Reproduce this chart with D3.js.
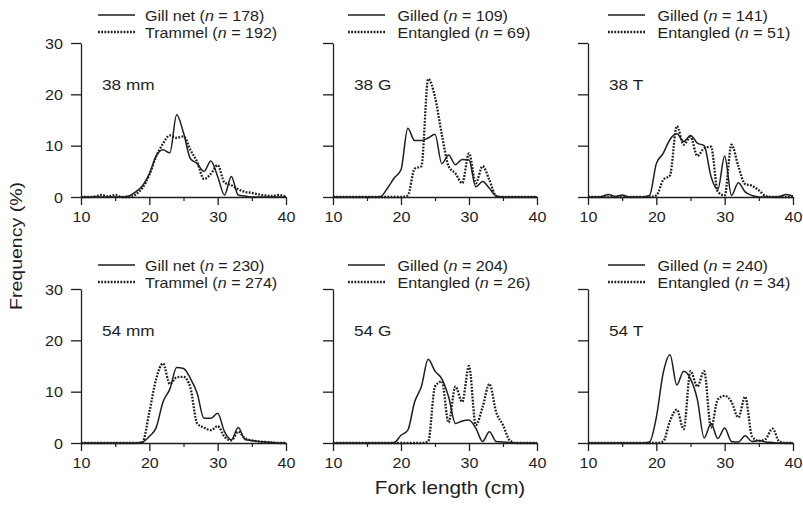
<!DOCTYPE html>
<html>
<head>
<meta charset="utf-8">
<script src="https://cdn.jsdelivr.net/npm/d3@7"></script>
<style>
  body { margin: 0; background: #ffffff; }
  svg { display: block; }
  text { font-family: "Liberation Sans", Arial, Helvetica, sans-serif; fill: #1e1e1e; }
</style>
</head>
<body>
<svg id="chart" width="803" height="511"></svg>
<script>
// Fork-length bins (cm) shared by every panel
const forkLength = d3.range(10, 41);

// Axis ticks
const xMajorTicks = [10, 20, 30, 40];
const xMinorTicks = [15, 25, 35];
const yTicks = [0, 10, 20, 30];

// Frequency (%) per 1-cm bin, 10..40 cm
const gillNet38    = [0,0,0,0,0,0,0,0.2,1.0,2.2,4.5,8.0,9.2,8.6,16.0,12.5,7.5,6.5,5.0,7.0,4.0,0.4,4.0,0.4,0.2,0,0,0,0,0,0];
const trammel38    = [0,0,0.1,0.4,0.1,0.4,0,0,0.5,1.8,4.3,7.9,10.4,12.0,11.5,11.8,9.2,6.8,3.5,4.5,6.2,2.8,2.3,1.5,1.0,0.8,0.5,0.3,0.2,0.4,0];
const gilled38G    = [0,0,0,0,0,0,0,0.1,1.7,3.7,5.3,13.4,11.0,11.0,11.5,12.2,6.5,8.2,6.3,7.3,7.2,2.0,3.0,1.7,0.2,0,0,0,0,0,0];
const entangled38G = [0,0,0,0,0,0,0,0,0,0,0,0.3,5.5,6.0,23.0,19.5,12.2,6.0,4.6,2.7,8.5,2.7,6.0,3.3,0.2,0,0,0,0,0,0];
const gilled38T    = [0,0,0.1,0.5,0.1,0.4,0,0,0,0.3,6.5,8.5,11.2,12.3,10.8,12.0,10.5,10.0,4.0,1.5,8.0,0.3,2.8,1.0,0.3,0,0,0,0.1,0.5,0.2];
const entangled38T = [0,0,0,0,0,0,0,0,0,0,0.3,3.3,4.2,13.8,10.2,11.7,8.0,9.5,9.8,1.0,0.3,10.2,6.0,2.5,2.2,1.3,0.2,0,0,0,0];
const gillNet54    = [0,0,0,0,0,0,0,0,0,0.2,1.3,3.0,8.0,10.5,14.7,14.5,12.6,9.7,4.8,4.8,5.8,2.2,0.6,3.0,0.7,0.5,0.3,0.2,0.1,0,0];
const trammel54    = [0,0,0,0,0,0,0,0,0,0.2,6.0,12.5,15.5,11.5,12.8,12.9,10.8,3.8,3.0,2.5,3.3,1.2,0.5,2.2,0.9,0.5,0.3,0.2,0.1,0,0];
const gilled54G    = [0,0,0,0,0,0,0,0,0,0.1,1.5,2.5,8.0,11.0,16.3,14.0,12.5,9.0,3.8,4.3,4.5,2.9,0.3,2.2,0.3,0.2,0.1,0,0,0,0];
const entangled54G = [0,0,0,0,0,0,0,0,0,0,0,0,0,0,0.3,11.0,12.0,4.0,11.0,8.0,15.0,3.5,7.0,11.5,6.0,3.5,0.5,0,0,0,0];
const gilled54T    = [0,0,0,0,0,0,0,0,0,0.2,5.0,13.6,17.2,11.3,14.0,12.5,8.5,1.0,3.8,0.9,2.9,0.3,0.2,1.4,0.3,0.5,0.2,0.1,0,0,0];
const entangled54T = [0,0,0,0,0,0,0,0,0,0,0,0.3,4.3,6.5,2.7,14.0,11.0,14.0,3.0,8.5,9.2,8.0,5.0,9.0,1.3,0.4,0.8,2.8,0.3,0,0];

// Panel titles, series names and sample sizes
const panelLabels  = ["38 mm", "38 G", "38 T", "54 mm", "54 G", "54 T"];
const solidSeries  = [gillNet38, gilled38G, gilled38T, gillNet54, gilled54G, gilled54T];
const dottedSeries = [trammel38, entangled38G, entangled38T, trammel54, entangled54G, entangled54T];
const solidNames   = ["Gill net", "Gilled", "Gilled", "Gill net", "Gilled", "Gilled"];
const dottedNames  = ["Trammel", "Entangled", "Entangled", "Trammel", "Entangled", "Entangled"];
const solidN       = [178, 109, 141, 230, 204, 240];
const dottedN      = [192, 69, 51, 274, 26, 34];

// Layout
const colLeft   = [81, 333, 588];
const colWidth  = [205, 204, 205];
const rowBase   = [197, 443];
const plotH     = 154;
const legendY   = [15, 265];
const legendLineX = [17, 15, 20];
const legendTextX = [64, 64.5, 69.5];
const SX = 1.15;            // horizontal stretch of the lettering
const ink = "#1e1e1e";

const svg = d3.select("#chart");

function stretchedText(parent, x, y, size, anchor) {
  return parent.append("text")
    .attr("transform", `translate(${x},${y}) scale(${SX},1)`)
    .attr("text-anchor", anchor)
    .style("font-size", size + "px");
}

panelLabels.forEach((label, i) => {
  const col = i % 3, row = Math.floor(i / 3);
  const x = d3.scaleLinear().domain([10, 40]).range([colLeft[col], colLeft[col] + colWidth[col]]);
  const y = d3.scaleLinear().domain([0, 30]).range([rowBase[row], rowBase[row] - plotH]);
  const g = svg.append("g");

  // x axis: major ticks with labels
  g.append("g")
    .attr("transform", `translate(0,${rowBase[row]})`)
    .style("color", ink)
    .call(d3.axisBottom(x).tickValues(xMajorTicks).tickSize(8).tickSizeOuter(0))
    .call(a => a.select(".domain").attr("stroke-width", 1.3))
    .call(a => a.selectAll(".tick line").attr("stroke-width", 1.3))
    .call(a => a.selectAll(".tick text")
      .attr("y", null).attr("dy", null)
      .attr("transform", `translate(0,25) scale(${SX},1)`)
      .attr("font-family", null).attr("font-size", null)
      .style("font-size", "14px").style("fill", ink));

  // x axis: minor ticks
  g.append("g")
    .attr("transform", `translate(0,${rowBase[row]})`)
    .style("color", ink)
    .call(d3.axisBottom(x).tickValues(xMinorTicks).tickSize(4).tickFormat(""))
    .call(a => a.select(".domain").remove())
    .call(a => a.selectAll(".tick line").attr("stroke-width", 1.2));

  // y axis
  const yAxis = d3.axisLeft(y).tickValues(yTicks).tickSize(10).tickSizeOuter(0);
  if (col > 0) yAxis.tickFormat("");
  g.append("g")
    .attr("transform", `translate(${colLeft[col]},0)`)
    .style("color", ink)
    .call(yAxis)
    .call(a => a.select(".domain").attr("stroke-width", 1.3))
    .call(a => a.selectAll(".tick line").attr("stroke-width", 1.3))
    .call(a => a.selectAll(".tick text")
      .attr("x", null).attr("dy", null)
      .attr("transform", `translate(-18,5) scale(${SX},1)`)
      .attr("font-family", null).attr("font-size", null)
      .style("font-size", "14px").style("fill", ink));

  // frequency curves
  const line = d3.line()
    .x((d, k) => x(forkLength[k]))
    .y(d => y(d))
    .curve(d3.curveMonotoneX);

  g.append("path")
    .datum(solidSeries[i])
    .attr("d", line)
    .attr("fill", "none")
    .attr("stroke", ink)
    .attr("stroke-width", 1.5)
    .attr("stroke-linejoin", "round");

  g.append("path")
    .datum(dottedSeries[i])
    .attr("d", line)
    .attr("fill", "none")
    .attr("stroke", ink)
    .attr("stroke-width", 2.3)
    .attr("stroke-dasharray", "1.8,1.4");

  // panel label
  stretchedText(g, colLeft[col] + 21, rowBase[row] - 107, 15, "start").text(label);

  // legend
  const lx = colLeft[col] + legendLineX[col];
  const tx = colLeft[col] + legendTextX[col];
  const entries = [
    { name: solidNames[i], n: solidN[i], dash: null, w: 1.6 },
    { name: dottedNames[i], n: dottedN[i], dash: "1.8,1.4", w: 2.3 }
  ];
  entries.forEach((e, k) => {
    const ly = legendY[row] + k * 17;
    g.append("line")
      .attr("x1", lx).attr("x2", lx + 37)
      .attr("y1", ly).attr("y2", ly)
      .attr("stroke", ink)
      .attr("stroke-width", e.w)
      .attr("stroke-dasharray", e.dash);
    const t = stretchedText(g, tx, ly + 5.5, 14, "start");
    t.append("tspan").text(e.name + " (");
    t.append("tspan").style("font-style", "italic").text("n");
    t.append("tspan").text(" = " + e.n + ")");
  });
});

// axis titles
stretchedText(svg, 450, 494, 18, "middle").text("Fork length (cm)");
svg.append("text")
  .attr("transform", `translate(22,246) rotate(-90) scale(${SX},1)`)
  .attr("text-anchor", "middle")
  .style("font-size", "17px")
  .text("Frequency (%)");
</script>
</body>
</html>
